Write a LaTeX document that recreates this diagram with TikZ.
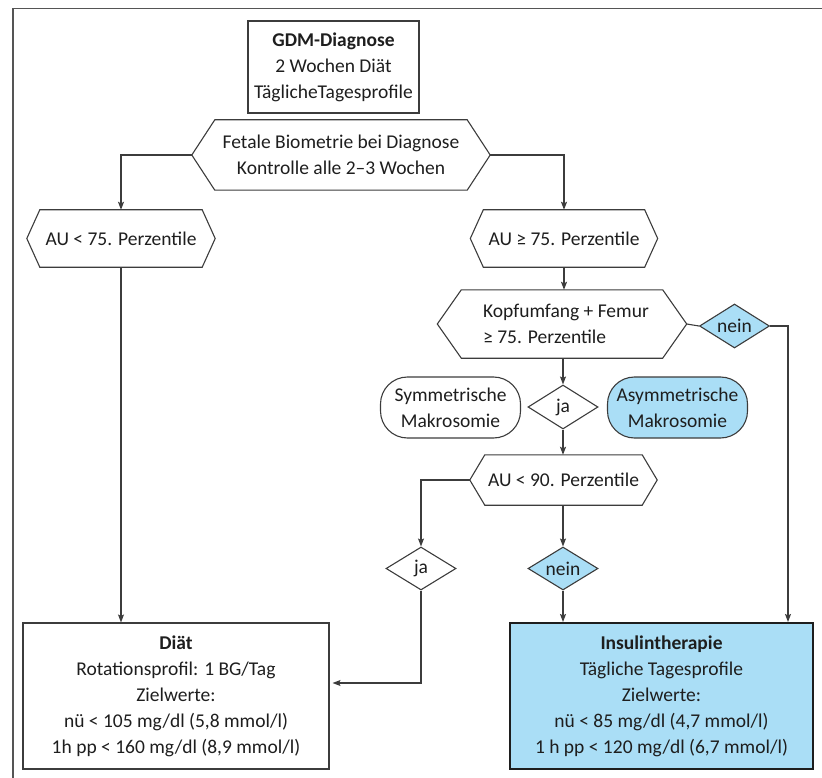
\documentclass[tikz,border=0pt]{standalone}
\usepackage{fontspec}
\setmainfont{Carlito}
\usetikzlibrary{shapes.geometric,arrows.meta}
\definecolor{lblue}{RGB}{170,222,246}
\definecolor{ink}{RGB}{30,30,30}
\definecolor{lnkc}{RGB}{60,60,60}
\definecolor{framegray}{RGB}{85,85,85}
\newcommand\hexshape[2]{\draw[hexline] (#1.west) -- ([xshift=#2]#1.north west) -- ([xshift=-#2]#1.north east) -- (#1.east) -- ([xshift=-#2]#1.south east) -- ([xshift=#2]#1.south west) -- cycle;}
\begin{document}
\begin{tikzpicture}[x=1pt,y=-1pt,
  every node/.style={font=\fontsize{19.5}{26}\selectfont, text=ink, align=center, inner sep=0pt},
  box/.style={rectangle, draw=lnkc, line width=1.1pt},
  hexn/.style={rectangle, draw=none},
  hexline/.style={draw=lnkc, line width=1.1pt},
  dia/.style={diamond, aspect=1.6, draw=lnkc, line width=1.1pt, minimum width=70pt, minimum height=44pt},
  pill/.style={rectangle, rounded corners=27pt, draw=lnkc, line width=1.1pt, minimum width=140pt, minimum height=61pt},
  lnk/.style={draw=lnkc, line width=1.1pt},
  arr/.style={lnk, -{Stealth[length=8pt,width=6pt,inset=1.5pt]}}
]
\useasboundingbox (0,0) rectangle (822,778);
\draw[framegray, line width=1.6pt] (13,778) -- (13,8.5) -- (822,8.5);

\node[box, minimum width=171pt, minimum height=92pt] (gdm) at (333.5,67)
  {\textbf{GDM-Diagnose}\\2 Wochen Diät\\TäglicheTagesprofile};

\node[hexn, minimum width=298pt, minimum height=70pt] (fet) at (341,155)
  {Fetale Biometrie bei Diagnose\\Kontrolle alle 2–3 Wochen};
\hexshape{fet}{23pt}

\node[hexn, minimum width=188pt, minimum height=57pt] (au1) at (121,238.5)
  {AU < 75. Perzentile};
\hexshape{au1}{13pt}

\node[hexn, minimum width=187pt, minimum height=57pt] (au2) at (564,238.5)
  {AU ≥ 75. Perzentile};
\hexshape{au2}{13pt}

\node[hexn, minimum width=249pt, minimum height=68pt, align=left] (kopf) at (562,324)
  {\hspace*{8pt}Kopfumfang + Femur\\\hspace*{8pt}≥ 75. Perzentile};
\hexshape{kopf}{24pt}

\node[dia, fill=lblue] (nein1) at (734.5,326) {nein};

\node[dia] (ja1) at (563,407) {ja};
\node[pill] (sym) at (450.5,407.5) {Symmetrische\\Makrosomie};
\node[pill, fill=lblue] (asym) at (677.5,407.5) {Asymmetrische\\Makrosomie};

\node[hexn, minimum width=187pt, minimum height=50pt] (au3) at (563.5,480)
  {AU < 90. Perzentile};
\hexshape{au3}{15pt}

\node[dia, minimum height=43pt] (ja2) at (421,568.5) {ja};
\node[dia, minimum height=43pt, fill=lblue] (nein2) at (563,568.5) {nein};

\node[box, minimum width=306pt, minimum height=146pt] (diat) at (176,696)
  {\textbf{Diät}\\Rotationsprofil: 1 BG/Tag\\Zielwerte:\\nü < 105 mg/dl (5,8 mmol/l)\\1h pp < 160 mg/dl (8,9 mmol/l)};
\node[box, draw=ink, fill=lblue, line width=2pt, minimum width=303pt, minimum height=146pt] (ins) at (661.5,696)
  {\textbf{Insulintherapie}\\Tägliche Tagesprofile\\Zielwerte:\\nü < 85 mg/dl (4,7 mmol/l)\\1 h pp < 120 mg/dl (6,7 mmol/l)};

\draw[arr] (fet.west) -| (au1.north);
\draw[arr] (fet.east) -| (au2.north);
\draw[arr] (au1.south) -- (au1.south |- diat.north);
\draw[arr] (au2.south) -- (au2.south |- kopf.north);
\draw[lnk] (kopf.east) -- (nein1.west);
\draw[arr] (nein1.east) -| ([xshift=126.5pt]ins.north);
\draw[arr] (kopf.south -| ja1.north) -- (ja1.north);
\draw[arr] (ja1.south) -- (ja1.south |- au3.north);
\draw[arr] (au3.west) -| (ja2.north);
\draw[arr] (au3.south -| nein2.north) -- (nein2.north);
\draw[arr] (nein2.south) -- (nein2.south |- ins.north);
\draw[arr, shorten >=3pt] (ja2.south) |- ([yshift=13pt]diat.east);
\end{tikzpicture}
\end{document}
